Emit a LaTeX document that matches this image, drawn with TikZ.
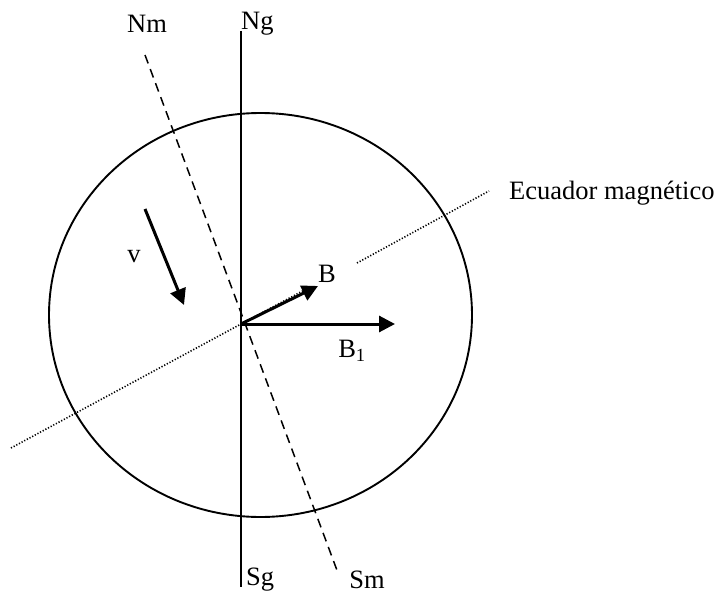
\documentclass[tikz,border=0pt]{standalone}
\usepackage{fontspec}
\setmainfont{Liberation Serif}
\usetikzlibrary{arrows.meta}
\begin{document}
\begin{tikzpicture}[x=1pt,y=-1pt,
  lbl/.style={inner sep=0pt,font=\fontsize{26.5}{30}\selectfont},
  thinline/.style={line width=1.9pt},
  dashline/.style={line width=1.5pt,dash pattern=on 9pt off 6pt},
  dotline/.style={line width=1.6pt,dash pattern=on 1.2pt off 1.8pt},
  vec/.style={line width=3pt,-{Triangle[length=16pt,width=16pt]}}]
\useasboundingbox (0,0) rectangle (718,594);
% coordinates
\coordinate (O) at (241,324);
\coordinate (NgTop) at (241,31);
\coordinate (SgBot) at (241,587);
\coordinate (NmEnd) at (145,55);
\coordinate (SmEnd) at (338,573);
\coordinate (EqL) at (11,448);
\coordinate (EqA) at (357,263);
\coordinate (EqB) at (489,191);
\coordinate (EqC) at (310,287);
\coordinate (vS) at (145,209);
\coordinate (vE) at (184,305);
\coordinate (BE) at (318,286);
\coordinate (B1E) at (395,324);
% circle (earth)
\draw[thinline] (260.5,315) ellipse [x radius=211.5, y radius=202];
% geographic axis
\draw[thinline] (NgTop) -- (SgBot);
% magnetic axis
\draw[dashline] (NmEnd) -- (SmEnd);
% magnetic equator
\draw[dotline] (EqL) -- (O);
\draw[dotline] (O) -- (EqC);
\draw[dotline] (EqA) -- (EqB);
% vectors
\draw[vec] (vS) -- (vE);
\draw[vec] (O) -- (BE);
\draw[vec] (O) -- (B1E);
% labels
\node[lbl] (nm) at (147,24) {Nm};
\node[lbl,anchor=west] (ng) at (241,24) {Ng};
\node[lbl,anchor=west] (sg) at (246,580) {Sg};
\node[lbl] (sm) at (367,580) {Sm};
\node[lbl] (v) at (134,257) {v};
\node[lbl] (b) at (327,274) {B};
\node[lbl] (b1) at (352,351) {B\textsubscript{1}};
\node[lbl,anchor=west] (ec) at (509,193) {Ecuador magnético};
\end{tikzpicture}
\end{document}
